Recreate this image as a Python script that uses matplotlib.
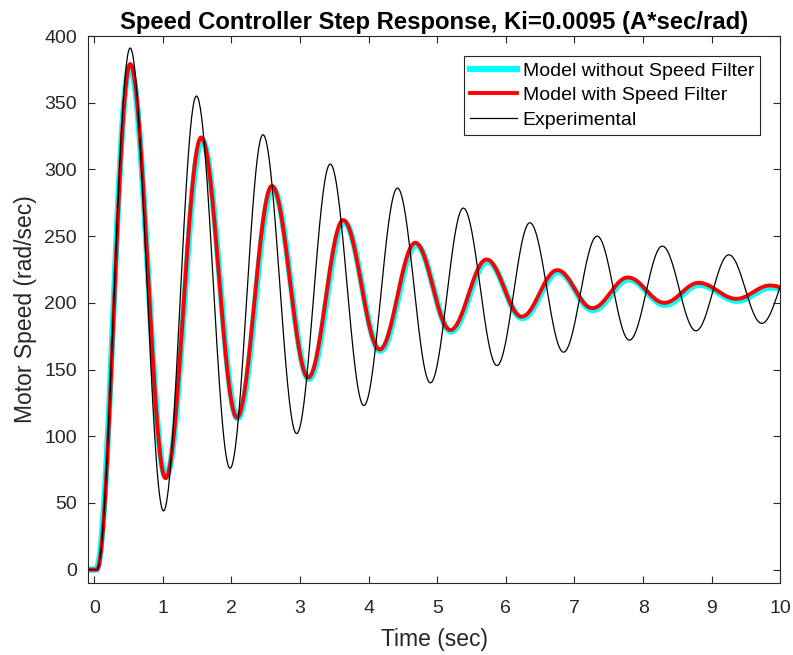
import numpy as np
import matplotlib
matplotlib.use("Agg")
import matplotlib.pyplot as plt

# Extrema (time in sec, speed in rad/sec)
cyanT = [-0.09, 0.03, 0.52, 1.045, 1.57, 2.09, 2.60, 3.13, 3.64, 4.17, 4.69, 5.20,
         5.73, 6.24, 6.76, 7.27, 7.79, 8.32, 8.82, 9.37, 9.86, 10.41]
cyanV = [0, 0, 377, 69.5, 322, 113.5, 286, 143, 260.5, 164, 243.5, 178.5,
         231, 188.5, 223, 194.5, 217.5, 198.5, 213.5, 201.5, 211.5, 203.5]

redT = [-0.09, 0.04, 0.525, 1.04, 1.56, 2.08, 2.59, 3.12, 3.63, 4.16, 4.68, 5.19,
        5.72, 6.23, 6.75, 7.26, 7.78, 8.31, 8.81, 9.36, 9.85, 10.4]
redV = [0, 0, 379, 68.6, 324, 114, 287.6, 144, 262, 165, 245, 179.6,
        232.5, 189.6, 224.5, 196, 219, 200, 215, 203, 213, 205]

expT = [-0.09, 0.04, 0.524, 1.01, 1.49, 1.98, 2.46, 2.95, 3.44, 3.93, 4.42, 4.90,
        5.38, 5.87, 6.35, 6.84, 7.33, 7.80, 8.28, 8.77, 9.25, 9.73, 10.21]
expV = [0, 0, 391, 44, 355, 76, 326, 102, 304, 123, 286, 140,
        271, 153, 260, 163, 250, 172, 242.5, 179, 236, 184.6, 231]

labels = ["Model without Speed Filter", "Model with Speed Filter", "Experimental"]
xticks = list(range(0, 11))
yticks = list(range(0, 401, 50))


def smoothCurve(ts, vs, n=60):
    # half-cosine segments between successive extrema
    tt, vv = [], []
    for i in range(len(ts) - 1):
        s = np.linspace(0, 1, n, endpoint=False)
        w = 0.5 * (1 - np.cos(np.pi * s))
        tt.append(ts[i] + (ts[i + 1] - ts[i]) * s)
        vv.append(vs[i] + (vs[i + 1] - vs[i]) * w)
    tt.append([ts[-1]])
    vv.append([vs[-1]])
    return np.concatenate(tt), np.concatenate(vv)


plt.rcParams["font.family"] = ["Liberation Sans", "DejaVu Sans"]

fig = plt.figure(figsize=(7.93, 6.55), dpi=100)
ax = fig.add_axes([0.111, 0.110, 0.873, 0.835])

t, v = smoothCurve(cyanT, cyanV)
ax.plot(t, v, color="cyan", linewidth=4.5, label=labels[0])
t, v = smoothCurve(redT, redV)
ax.plot(t, v, color="red", linewidth=2.8, label=labels[1])
t, v = smoothCurve(expT, expV)
ax.plot(t, v, color="black", linewidth=0.9, label=labels[2])

ax.set_xlim(-0.09, 10)
ax.set_ylim(-10, 400)
ax.set_xticks(xticks)
ax.set_yticks(yticks)

grey = "#262626"
ax.tick_params(direction="in", length=5, width=0.8, top=True, right=True,
               colors=grey, labelsize=14)
ax.tick_params(axis="x", pad=12)
ax.tick_params(axis="y", pad=8)
for sp in ax.spines.values():
    sp.set_color(grey)
    sp.set_linewidth(0.8)

ax.set_xlabel("Time (sec)", fontsize=16.5, color=grey, labelpad=8)
ax.set_ylabel("Motor Speed (rad/sec)", fontsize=16.5, color=grey, labelpad=5)
ax.set_title("Speed Controller Step Response, Ki=0.0095 (A*sec/rad)",
             fontsize=17.2, fontweight="bold", pad=5)

leg = ax.legend(loc="upper right", fontsize=14, fancybox=False, framealpha=1,
                edgecolor=grey, handlelength=2.4, borderaxespad=1.05,
                handletextpad=0.3, labelspacing=0.35, borderpad=0.3)
leg.get_frame().set_linewidth(0.8)

fig.savefig("out.png", dpi=100)
